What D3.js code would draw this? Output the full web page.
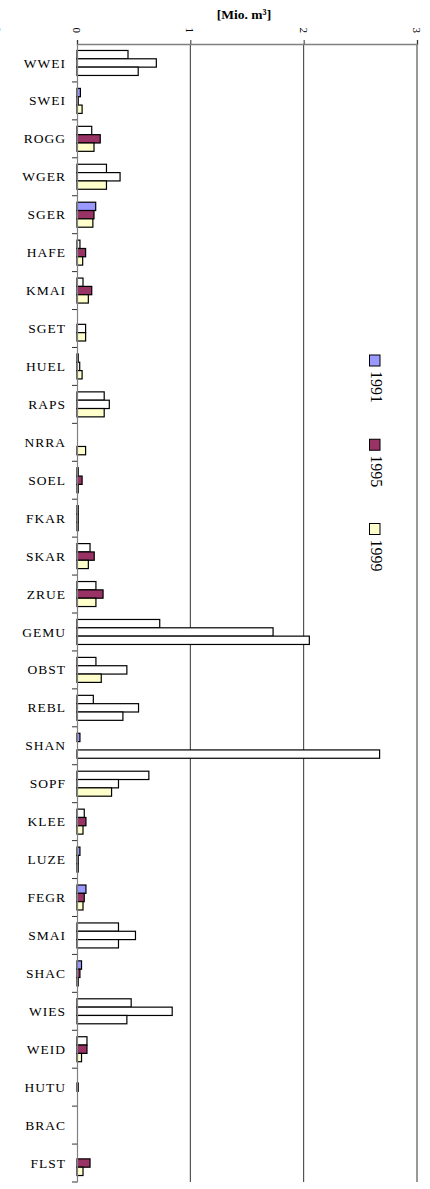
<!DOCTYPE html>
<html>
<head>
<meta charset="utf-8">
<script src="https://cdn.jsdelivr.net/npm/d3@7/dist/d3.min.js"></script>
<style>
  html, body { margin: 0; padding: 0; background: #fff; }
  svg { display: block; }
</style>
</head>
<body>
<script>
// ---------- DATA ----------
const categories = ["WWEI","SWEI","ROGG","WGER","SGER","HAFE","KMAI","SGET","HUEL","RAPS",
  "NRRA","SOEL","FKAR","SKAR","ZRUE","GEMU","OBST","REBL","SHAN","SOPF",
  "KLEE","LUZE","FEGR","SMAI","SHAC","WIES","WEID","HUTU","BRAC","FLST"];
const years = ["1991","1995","1999"];
const values1991 = [0.45,0.03,0.13,0.26,0.165,0.026,0.053,0,0.011,0.24,
  0,0.011,0.011,0.115,0.167,0.73,0.167,0.144,0.026,0.634,
  0.064,0.026,0.079,0.366,0.04,0.478,0.088,0,0,0];
const values1995 = [0.70,0.011,0.205,0.38,0.15,0.076,0.13,0.076,0.024,0.285,
  0,0.045,0.011,0.152,0.23,1.73,0.44,0.543,0,0.366,
  0.079,0.011,0.064,0.516,0.026,0.84,0.088,0.011,0,0.115];
const values1999 = [0.54,0.045,0.15,0.26,0.14,0.05,0.10,0.076,0.045,0.24,
  0.076,0.011,0.011,0.10,0.167,2.05,0.214,0.405,2.67,0.305,
  0.053,0.011,0.053,0.366,0.011,0.44,0.04,0,0,0.053];
const xTicks = [0,1,2,3];
const axisTitle = "[Mio. m³]";

// ---------- STYLE ----------
const colors = {"1991":"#9999FF","1995":"#993366","1999":"#FFFFCC"};
// bars that appear unfilled (white) in the reference rendering
const unfilled = new Set(["WWEI|1991","WWEI|1995","WWEI|1999","ROGG|1991","WGER|1991","WGER|1995",
  "HAFE|1991","KMAI|1991","SGET|1995","HUEL|1995","RAPS|1991","RAPS|1995","SKAR|1991","ZRUE|1991",
  "GEMU|1991","GEMU|1995","GEMU|1999","OBST|1991","OBST|1995","REBL|1991","REBL|1995","REBL|1999",
  "SHAN|1999","SOPF|1991","SOPF|1995","KLEE|1991","SMAI|1991","SMAI|1995","SMAI|1999",
  "WIES|1991","WIES|1995","WIES|1999","WEID|1991"]);

const W = 430, H = 1189;
const svg = d3.select("body").append("svg").attr("width", W).attr("height", H);

const serif = "'Liberation Serif','Times New Roman',serif";
const plotTop = 44, plotBottom = 1182, plotLeft = 77, plotRight = 417;

const x = d3.scaleLinear().domain([0, 3]).range([plotLeft, plotRight]);
const y0 = d3.scaleBand().domain(categories).range([plotTop, plotBottom]).padding(0);
const y1 = d3.scaleBand().domain(years).range([0, y0.bandwidth()]).paddingInner(0).paddingOuter(0.777);

const series = {"1991": values1991, "1995": values1995, "1999": values1999};
const rows = [];
categories.forEach((c, i) => {
  years.forEach(yr => {
    rows.push({cat: c, year: yr, v: series[yr][i]});
  });
});

// gridlines
svg.append("g").selectAll("line").data(xTicks.filter(d => d > 0)).join("line")
  .attr("x1", d => x(d)).attr("x2", d => x(d))
  .attr("y1", plotTop).attr("y2", plotBottom)
  .attr("stroke", "#333").attr("stroke-width", 1);

// bars
svg.append("g").selectAll("rect").data(rows.filter(d => d.v > 0)).join("rect")
  .attr("x", x(0))
  .attr("y", d => y0(d.cat) + y1(d.year))
  .attr("width", d => x(d.v) - x(0))
  .attr("height", y1.bandwidth())
  .attr("fill", d => unfilled.has(d.cat + "|" + d.year) ? "#fff" : colors[d.year])
  .attr("stroke", "#000").attr("stroke-width", 1.2);

// top axis
const xAxis = d3.axisTop(x).tickValues(xTicks).tickSize(4).tickFormat("");
const gx = svg.append("g").attr("transform", `translate(0,${plotTop})`).call(xAxis);
gx.select(".domain").attr("stroke", "#808080").attr("stroke-width", 1.5);
gx.selectAll(".tick line").attr("stroke", "#333");

svg.append("g").selectAll("text").data(xTicks).join("text")
  .attr("transform", d => `translate(${x(d)},27.5) rotate(90)`)
  .attr("text-anchor", "start")
  .attr("dominant-baseline", "central")
  .attr("font-family", serif).attr("font-size", 11).attr("fill", "#000")
  .text(d => d);

// left axis
const yAxis = d3.axisLeft(y0).tickSize(0).tickFormat("");
const gy = svg.append("g").attr("transform", `translate(${plotLeft},0)`).call(yAxis);
gy.select(".domain").attr("stroke", "#808080").attr("stroke-width", 1.2);
const boundaries = categories.map(c => y0(c)).concat([plotBottom]).slice(1);
svg.append("g").selectAll("line").data(boundaries).join("line")
  .attr("x1", plotLeft - 5).attr("x2", plotLeft).attr("y1", d => d).attr("y2", d => d)
  .attr("stroke", "#333").attr("stroke-width", 1);

// category labels
svg.append("g").selectAll("text").data(categories).join("text")
  .attr("x", 66)
  .attr("y", d => y0(d) + y0.bandwidth() / 2)
  .attr("dy", "0.34em")
  .attr("text-anchor", "end")
  .attr("font-family", serif).attr("font-size", 13.5)
  .attr("letter-spacing", "1px")
  .attr("fill", "#000")
  .text(d => d);

// title
svg.append("text")
  .attr("x", 244).attr("y", 19)
  .attr("text-anchor", "middle")
  .attr("font-family", serif).attr("font-size", 13.5).attr("font-weight", "bold")
  .text(axisTitle);

// clipped artifact at top-left
svg.append("text")
  .attr("transform", "translate(-3,27) rotate(90)")
  .attr("text-anchor", "start").attr("dominant-baseline", "central")
  .attr("font-family", serif).attr("font-size", 11)
  .text("3");

// legend
const legendY = d3.scalePoint().domain(years).range([355, 523.5]);
const lg = svg.append("g").selectAll("g").data(years).join("g")
  .attr("transform", d => `translate(369.5,${legendY(d)})`);
lg.append("rect").attr("x", 0).attr("y", 0).attr("width", 10.5).attr("height", 11)
  .attr("fill", d => colors[d]).attr("stroke", "#000").attr("stroke-width", 1);
lg.append("text")
  .attr("transform", "translate(6.5,16) rotate(90)")
  .attr("text-anchor", "start").attr("dominant-baseline", "central")
  .attr("font-family", serif).attr("font-size", 16)
  .text(d => d);
</script>
</body>
</html>
